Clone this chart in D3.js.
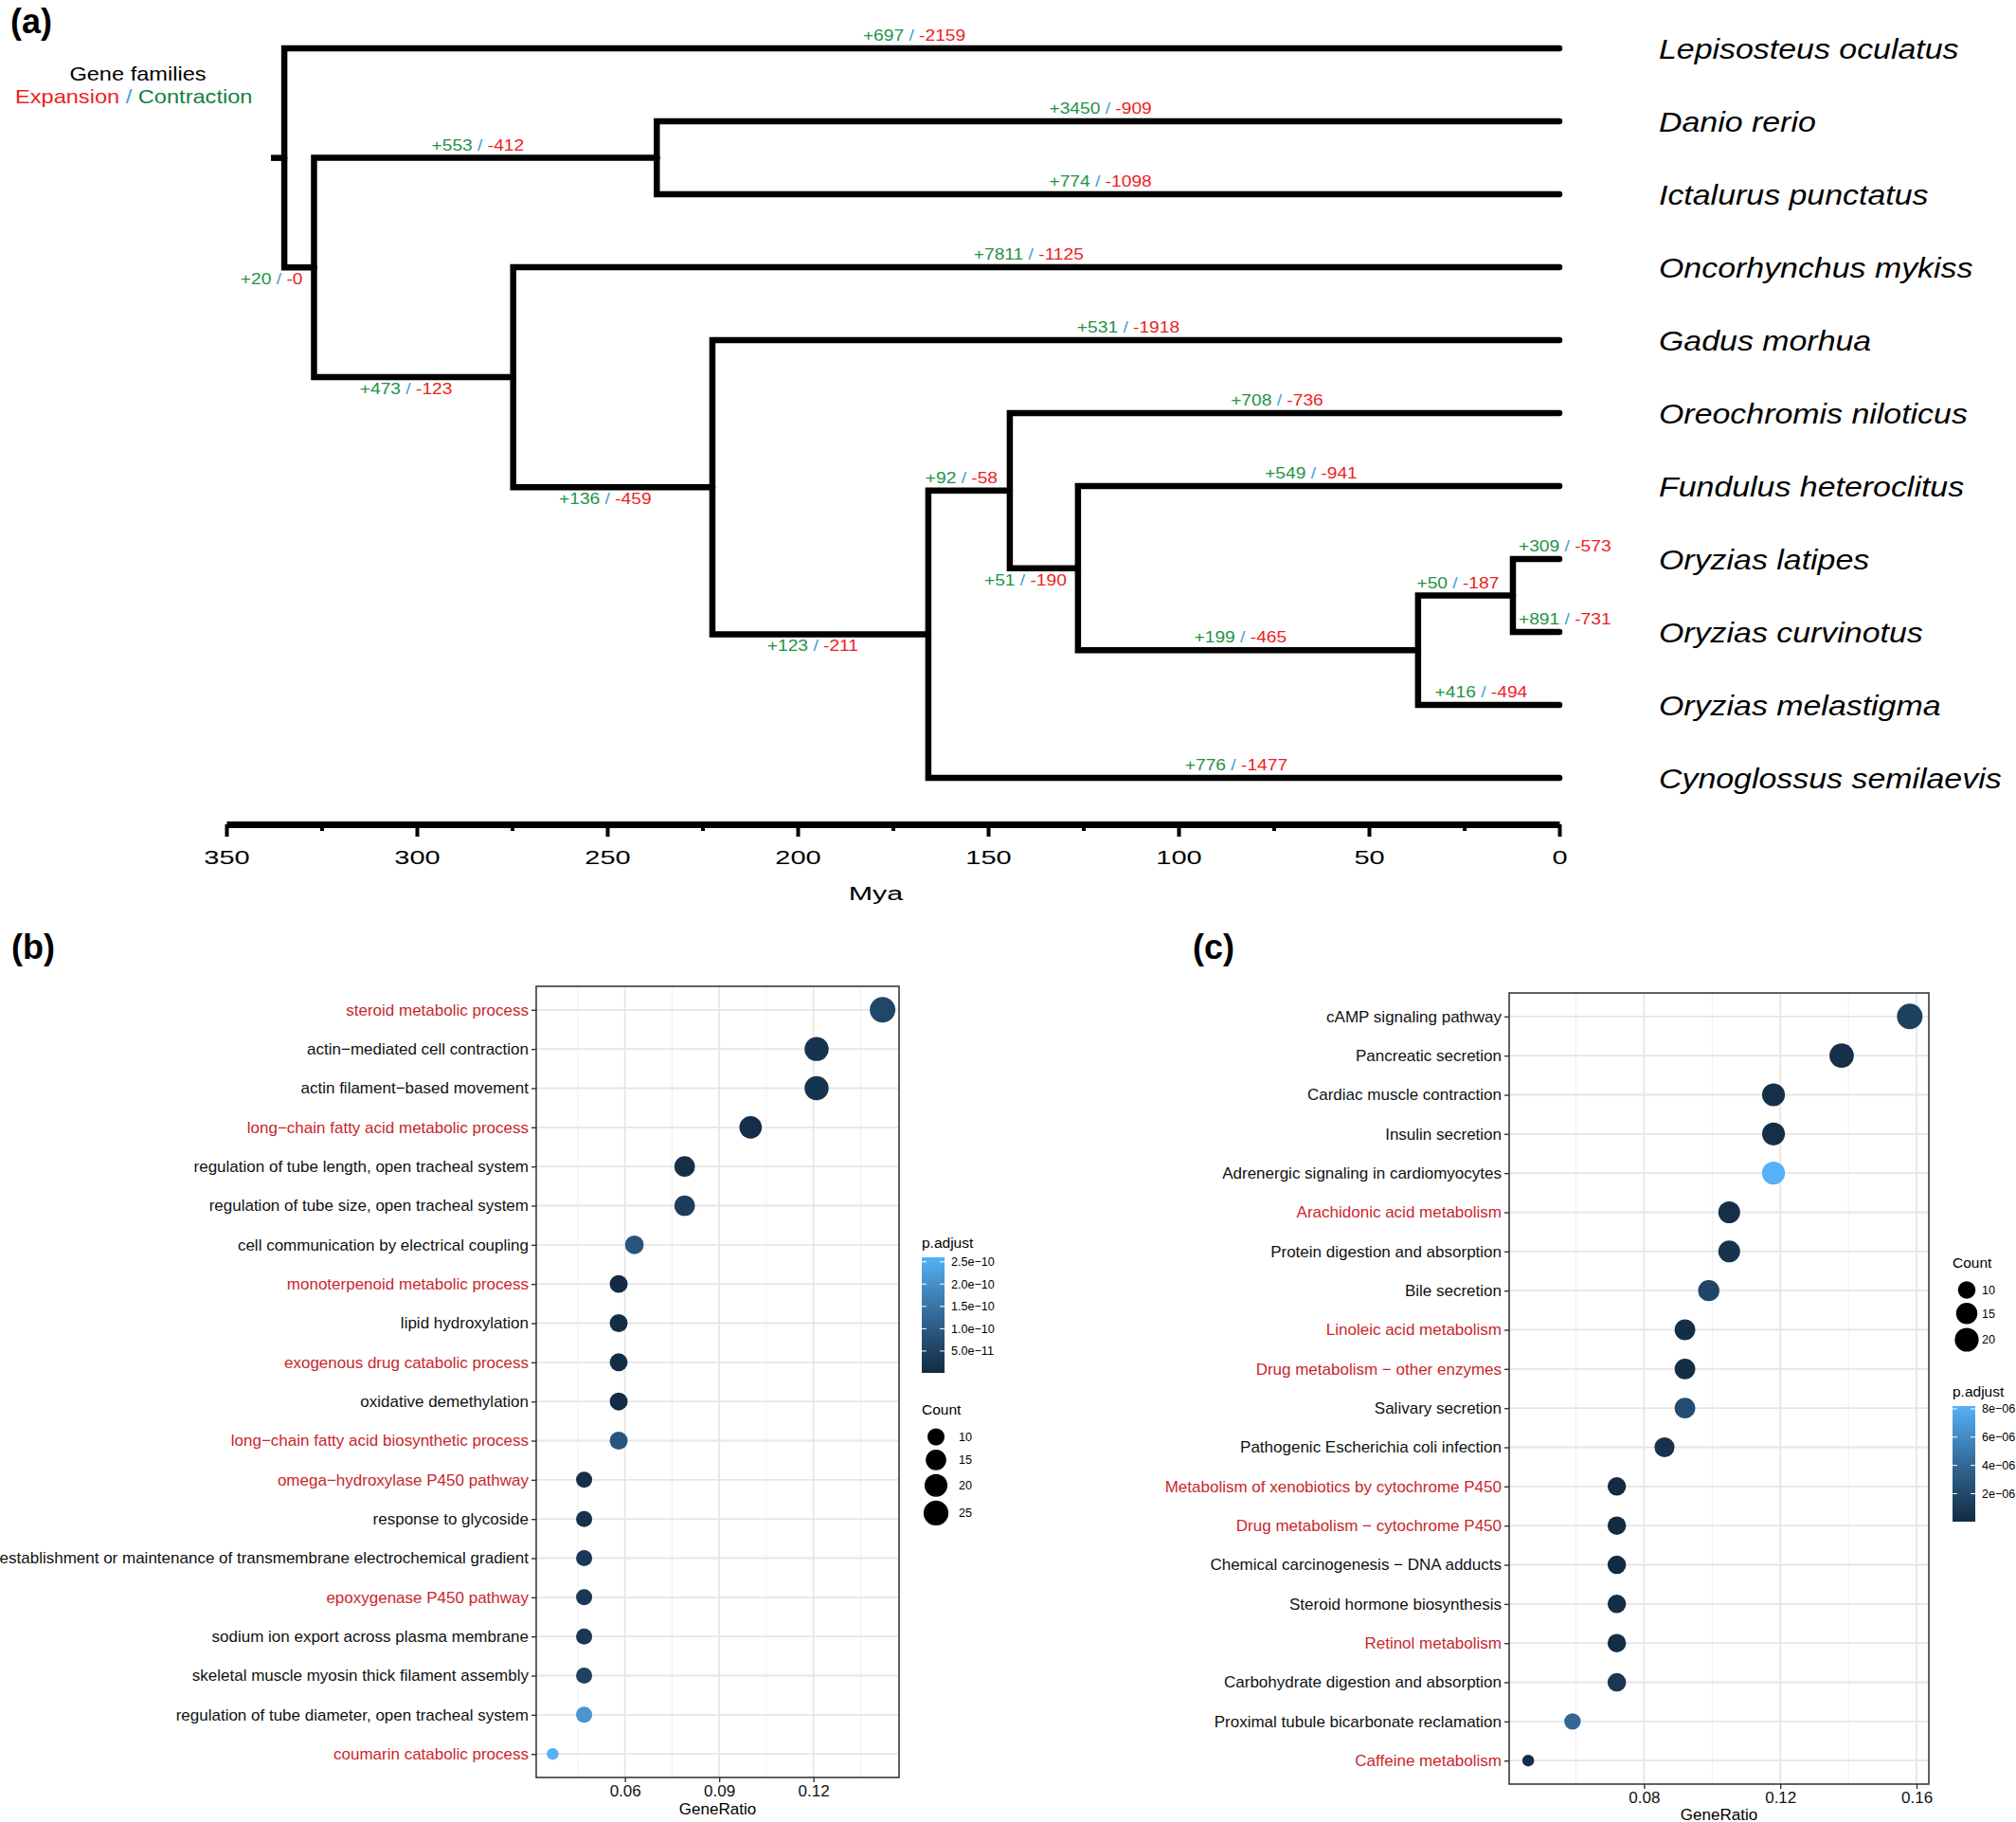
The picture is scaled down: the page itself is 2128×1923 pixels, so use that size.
<!DOCTYPE html>
<html>
<head>
<meta charset="utf-8">
<script src="https://cdn.jsdelivr.net/npm/d3@7"></script>
<style>
  body { margin: 0; background: #fff; }
  text { font-family: "Liberation Sans", Arial, sans-serif; }
</style>
</head>
<body>
<div id="fig"></div>
<script>
d3 = window.d3;

// ---------- (a) tree data ----------
var species = ["Lepisosteus oculatus", "Danio rerio", "Ictalurus punctatus", "Oncorhynchus mykiss",
  "Gadus morhua", "Oreochromis niloticus", "Fundulus heteroclitus", "Oryzias latipes",
  "Oryzias curvinotus", "Oryzias melastigma", "Cynoglossus semilaevis"];
var nodeIds = ["n1", "n2", "n3", "n4", "n5", "n6", "n7", "n8", "n9", "n10"];
var nodeAges = [334.8, 327.0, 237.0, 274.7, 222.4, 165.7, 144.3, 126.4, 37.1, 12.2];
var nodeChildren = [
  ["Lepisosteus oculatus", "n2"], ["n3", "n4"], ["Danio rerio", "Ictalurus punctatus"],
  ["Oncorhynchus mykiss", "n5"], ["Gadus morhua", "n6"], ["n7", "Cynoglossus semilaevis"],
  ["Oreochromis niloticus", "n8"], ["Fundulus heteroclitus", "n9"], ["n10", "Oryzias melastigma"],
  ["Oryzias latipes", "Oryzias curvinotus"]];
var rootEdge = 3.5;

var branchTo = ["Lepisosteus oculatus", "n2", "n3", "Danio rerio", "Ictalurus punctatus", "n4",
  "Oncorhynchus mykiss", "n5", "Gadus morhua", "n6", "n7", "Oreochromis niloticus", "n8",
  "Fundulus heteroclitus", "n9", "n10", "Oryzias latipes", "Oryzias curvinotus",
  "Oryzias melastigma", "Cynoglossus semilaevis"];
var gains = [697, 20, 553, 3450, 774, 473, 7811, 136, 531, 123, 92, 708, 51, 549, 199, 50, 309, 891, 416, 776];
var losses = [2159, 0, 412, 909, 1098, 123, 1125, 459, 1918, 211, 58, 736, 190, 941, 465, 187, 573, 731, 494, 1477];

var myaTicks = [350, 300, 250, 200, 150, 100, 50, 0];
var myaMinor = [325, 275, 225, 175, 125, 75, 25];

// ---------- (b) GO terms ----------
var bTerms = ["steroid metabolic process", "actin\u2212mediated cell contraction", "actin filament\u2212based movement",
  "long\u2212chain fatty acid metabolic process", "regulation of tube length, open tracheal system",
  "regulation of tube size, open tracheal system", "cell communication by electrical coupling",
  "monoterpenoid metabolic process", "lipid hydroxylation", "exogenous drug catabolic process",
  "oxidative demethylation", "long\u2212chain fatty acid biosynthetic process", "omega\u2212hydroxylase P450 pathway",
  "response to glycoside", "establishment or maintenance of transmembrane electrochemical gradient",
  "epoxygenase P450 pathway", "sodium ion export across plasma membrane",
  "skeletal muscle myosin thick filament assembly", "regulation of tube diameter, open tracheal system",
  "coumarin catabolic process"];
var bRatio = [0.142, 0.121, 0.121, 0.100, 0.079, 0.079, 0.063, 0.058, 0.058, 0.058, 0.058, 0.058,
  0.047, 0.047, 0.047, 0.047, 0.047, 0.047, 0.047, 0.037];
var bCount = [27, 23, 23, 19, 15, 15, 12, 11, 11, 11, 11, 11, 9, 9, 9, 9, 9, 9, 9, 7];
var bPadj = [6e-11, 2e-11, 2e-11, 1e-11, 1e-11, 4e-11, 9e-11, 1e-12, 5e-12, 5e-12, 5e-12, 9e-11,
  1e-11, 1.5e-11, 3e-11, 3e-11, 3e-11, 5e-11, 2.1e-10, 2.6e-10];
var bRed = ["steroid metabolic process", "long\u2212chain fatty acid metabolic process", "monoterpenoid metabolic process",
  "exogenous drug catabolic process", "long\u2212chain fatty acid biosynthetic process",
  "omega\u2212hydroxylase P450 pathway", "epoxygenase P450 pathway", "coumarin catabolic process"];
var bXTicks = [0.06, 0.09, 0.12];
var bXMinor = [0.045, 0.075, 0.105, 0.135];
var bPTicks = [5e-11, 1e-10, 1.5e-10, 2e-10, 2.5e-10];
var bCountBreaks = [10, 15, 20, 25];

// ---------- (c) KEGG pathways ----------
var cTerms = ["cAMP signaling pathway", "Pancreatic secretion", "Cardiac muscle contraction", "Insulin secretion",
  "Adrenergic signaling in cardiomyocytes", "Arachidonic acid metabolism", "Protein digestion and absorption",
  "Bile secretion", "Linoleic acid metabolism", "Drug metabolism \u2212 other enzymes", "Salivary secretion",
  "Pathogenic Escherichia coli infection", "Metabolism of xenobiotics by cytochrome P450",
  "Drug metabolism \u2212 cytochrome P450", "Chemical carcinogenesis \u2212 DNA adducts",
  "Steroid hormone biosynthesis", "Retinol metabolism", "Carbohydrate digestion and absorption",
  "Proximal tubule bicarbonate reclamation", "Caffeine metabolism"];
var cRatio = [0.158, 0.138, 0.118, 0.118, 0.118, 0.105, 0.105, 0.099, 0.092, 0.092, 0.092, 0.086,
  0.072, 0.072, 0.072, 0.072, 0.072, 0.072, 0.059, 0.046];
var cCount = [24, 21, 18, 18, 18, 16, 16, 15, 14, 14, 14, 13, 11, 11, 11, 11, 11, 11, 9, 7];
var cPadj = [1.5e-6, 4e-7, 3e-7, 3e-7, 8.2e-6, 3e-7, 6e-7, 1.8e-6, 2e-7, 2e-7, 2.3e-6, 5e-7,
  2e-8, 2e-8, 5e-8, 1e-7, 1e-7, 8e-7, 4e-6, 3e-7];
var cRed = ["Arachidonic acid metabolism", "Linoleic acid metabolism", "Drug metabolism \u2212 other enzymes",
  "Metabolism of xenobiotics by cytochrome P450", "Drug metabolism \u2212 cytochrome P450",
  "Retinol metabolism", "Caffeine metabolism"];
var cXTicks = [0.08, 0.12, 0.16];
var cXMinor = [0.06, 0.10, 0.14];
var cPTicks = [2e-6, 4e-6, 6e-6, 8e-6];
var cCountBreaks = [10, 15, 20];

var W = 2128, H = 1923;
var GREEN = "#1f9346", BLUE = "#3d9ddb", RED = "#ee1d24", TERM_RED = "#c9272c";

var svg = d3.select("#fig").append("svg")
  .attr("width", W).attr("height", H)
  .style("background", "#fff");

// panel letters
[["(a)", 11, 35], ["(b)", 12, 1012], ["(c)", 1259, 1012]].forEach(function (p) {
  svg.append("text").attr("x", p[1]).attr("y", p[2])
    .attr("font-size", 36).attr("font-weight", "bold").text(p[0]);
});

// ================= (a) tree =================
var tx = d3.scaleLinear().domain([350, 0]).range([239, 1646]);
var tipY = d3.scalePoint().domain(species).range([51, 821]);

var parentOf = {};
var pos = {};
nodeIds.forEach(function (id, i) {
  nodeChildren[i].forEach(function (c) { parentOf[c] = id; });
});
function place(id) {
  if (pos[id]) return pos[id];
  var i = nodeIds.indexOf(id);
  if (i < 0) {
    pos[id] = {x: tx(0), y: tipY(id)};
  } else {
    var ys = nodeChildren[i].map(function (c) { return place(c).y; });
    pos[id] = {x: tx(nodeAges[i]), y: d3.mean(ys)};
  }
  return pos[id];
}
place("n1");

var tree = svg.append("g");
tree.append("path")
  .attr("d", "M" + tx(nodeAges[0] + rootEdge) + "," + pos.n1.y + "H" + pos.n1.x)
  .attr("fill", "none").attr("stroke", "#000").attr("stroke-width", 6.5);
nodeIds.forEach(function (id, i) {
  var p = pos[id];
  nodeChildren[i].forEach(function (c) {
    var q = pos[c];
    tree.append("path")
      .attr("d", "M" + p.x + "," + p.y + "V" + q.y + "H" + q.x)
      .attr("fill", "none").attr("stroke", "#000").attr("stroke-width", 6.5)
      .attr("stroke-linejoin", "miter").attr("stroke-linecap", "round");
  });
});

// gain / loss labels on branches
var labelBelow = ["n2", "n4", "n5", "n6", "n8"];
branchTo.forEach(function (id, i) {
  var c = pos[id], p = pos[parentOf[id]];
  var len = c.x - p.x;
  var below = labelBelow.indexOf(id) >= 0;
  var ax, anchor;
  if (below && len < 80) { ax = c.x - 12; anchor = "end"; }
  else if (!below && len < 60) { ax = p.x + 6; anchor = "start"; }
  else { ax = (p.x + c.x) / 2 - 8; anchor = "middle"; }
  var ty = below ? c.y + 18 : c.y - 8;
  var t = tree.append("text")
    .attr("transform", "translate(" + ax + "," + ty + ") scale(1.2,1)")
    .attr("text-anchor", anchor).attr("font-size", 16);
  t.append("tspan").attr("fill", GREEN).text("+" + gains[i]);
  t.append("tspan").attr("fill", BLUE).text(" / ");
  t.append("tspan").attr("fill", RED).text("-" + losses[i]);
});

// species names
species.forEach(function (s) {
  tree.append("text")
    .attr("transform", "translate(1751," + tipY(s) + ") scale(1.13,1)")
    .attr("dy", "0.36em").attr("font-size", 30).attr("font-style", "italic")
    .text(s);
});

// legend
tree.append("text").attr("transform", "translate(145.5,85) scale(1.18,1)")
  .attr("text-anchor", "middle").attr("font-size", 20).text("Gene families");
var lg = tree.append("text").attr("transform", "translate(16,109) scale(1.18,1)").attr("font-size", 20);
lg.append("tspan").attr("fill", RED).text("Expansion");
lg.append("tspan").attr("fill", BLUE).text(" / ");
lg.append("tspan").attr("fill", "#137f3f").text("Contraction");

// time axis
var axA = svg.append("g").attr("transform", "translate(0,870)");
axA.call(d3.axisBottom(tx).tickValues(myaMinor).tickSize(7).tickSizeOuter(0).tickFormat(""));
axA.selectAll(".tick line").attr("stroke", "#000").attr("stroke-width", 4);
axA.select(".domain").remove();
var axB = svg.append("g").attr("transform", "translate(0,870)");
axB.call(d3.axisBottom(tx).tickValues(myaTicks).tickSize(13).tickSizeOuter(0).tickPadding(15));
axB.select(".domain").attr("stroke", "#000").attr("stroke-width", 7);
axB.selectAll(".tick line").attr("stroke", "#000").attr("stroke-width", 4);
axB.selectAll(".tick text").attr("font-size", 20).attr("fill", "#000")
  .attr("font-family", "'Liberation Sans', Arial, sans-serif")
  .attr("transform", "scale(1.45,1)");
svg.append("text")
  .attr("transform", "translate(" + ((tx.range()[0] + tx.range()[1]) / 2 - 18) + ",950) scale(1.45,1)")
  .attr("text-anchor", "middle").attr("font-size", 21).text("Mya");

// ================= (b) / (c) dot plots =================
function sciFmt(digits) {
  return function (v) {
    var s = v.toExponential(digits).split("e");
    var n = +s[1];
    return s[0] + "e" + (n < 0 ? "\u2212" : "+") + String(Math.abs(n)).padStart(2, "0");
  };
}

function dotPlot(cfg) {
  var g = svg.append("g");
  var x0 = cfg.box[0], y0 = cfg.box[1], x1 = cfg.box[2], y1 = cfg.box[3];
  var ext = d3.extent(cfg.ratio), pad = (ext[1] - ext[0]) * 0.05;
  var x = d3.scaleLinear().domain([ext[0] - pad, ext[1] + pad]).range([x0, x1]);
  var y = d3.scalePoint().domain(cfg.terms).range([y0, y1]).padding(0.6);
  var norm = d3.scaleLinear().domain(d3.extent(cfg.count)).range([0, 1]);
  var rr = d3.scaleLinear().domain([0, 1]).range([6.2, 13.5]);
  var r = function (v) { return rr(Math.sqrt(Math.max(0, norm(v)))); };
  var pExt = d3.extent(cfg.padj);
  var col = d3.scaleLinear().domain(pExt).range(["#132B43", "#56B1F7"]).interpolate(d3.interpolateLab);

  // grid
  g.selectAll("line.minor").data(cfg.xMinor).join("line").attr("class", "minor")
    .attr("x1", x).attr("x2", x).attr("y1", y0).attr("y2", y1)
    .attr("stroke", "#ececec").attr("stroke-width", 0.9);
  g.selectAll("line.majorx").data(cfg.xTicks).join("line").attr("class", "majorx")
    .attr("x1", x).attr("x2", x).attr("y1", y0).attr("y2", y1)
    .attr("stroke", "#e6e6e6").attr("stroke-width", 1.8);
  g.selectAll("line.majory").data(cfg.terms).join("line").attr("class", "majory")
    .attr("x1", x0).attr("x2", x1).attr("y1", y).attr("y2", y)
    .attr("stroke", "#e6e6e6").attr("stroke-width", 1.8);

  // points
  g.selectAll("circle.pt").data(cfg.terms).join("circle").attr("class", "pt")
    .attr("cx", function (d, i) { return x(cfg.ratio[i]); })
    .attr("cy", function (d) { return y(d); })
    .attr("r", function (d, i) { return r(cfg.count[i]); })
    .attr("fill", function (d, i) { return col(cfg.padj[i]); });

  g.append("rect").attr("x", x0).attr("y", y0).attr("width", x1 - x0).attr("height", y1 - y0)
    .attr("fill", "none").attr("stroke", "#3a3a3a").attr("stroke-width", 1.6);

  // axes
  var ax = g.append("g").attr("transform", "translate(0," + y1 + ")")
    .call(d3.axisBottom(x).tickValues(cfg.xTicks).tickSize(5).tickPadding(3).tickFormat(d3.format(".2f")));
  ax.select(".domain").remove();
  ax.selectAll(".tick line").attr("stroke", "#333").attr("stroke-width", 1.4);
  ax.selectAll(".tick text").attr("font-size", 17).attr("fill", "#111")
    .attr("font-family", "'Liberation Sans', Arial, sans-serif");
  var ay = g.append("g").attr("transform", "translate(" + x0 + ",0)")
    .call(d3.axisLeft(y).tickSize(5).tickPadding(3));
  ay.select(".domain").remove();
  ay.selectAll(".tick line").attr("stroke", "#333").attr("stroke-width", 1.4);
  ay.selectAll(".tick text").attr("font-size", 17)
    .attr("font-family", "'Liberation Sans', Arial, sans-serif")
    .attr("fill", function (d) { return cfg.red.indexOf(d) >= 0 ? TERM_RED : "#111"; });
  g.append("text").attr("x", (x0 + x1) / 2).attr("y", cfg.xlabY)
    .attr("text-anchor", "middle").attr("font-size", 17).text("GeneRatio");

  // colour bar legend
  var cb = cfg.colorbar, bw = 24, bh = 122;
  g.append("text").attr("x", cb[0]).attr("y", cb[1] - 10).attr("font-size", 15.5).text("p.adjust");
  var gid = "grad" + cfg.id;
  var grad = svg.append("defs").append("linearGradient").attr("id", gid)
    .attr("x1", 0).attr("y1", 1).attr("x2", 0).attr("y2", 0);
  d3.range(0, 1.0001, 0.05).forEach(function (t) {
    grad.append("stop").attr("offset", t)
      .attr("stop-color", col(pExt[0] + t * (pExt[1] - pExt[0])));
  });
  g.append("rect").attr("x", cb[0]).attr("y", cb[1]).attr("width", bw).attr("height", bh)
    .attr("fill", "url(#" + gid + ")");
  var py = d3.scaleLinear().domain(pExt).range([cb[1] + bh, cb[1]]);
  cfg.pTicks.forEach(function (v) {
    var yy = py(v);
    g.append("line").attr("x1", cb[0]).attr("x2", cb[0] + 5).attr("y1", yy).attr("y2", yy)
      .attr("stroke", "#fff").attr("stroke-width", 1);
    g.append("line").attr("x1", cb[0] + bw - 5).attr("x2", cb[0] + bw).attr("y1", yy).attr("y2", yy)
      .attr("stroke", "#fff").attr("stroke-width", 1);
    g.append("text").attr("x", cb[0] + bw + 7).attr("y", yy).attr("dy", "0.35em")
      .attr("font-size", 12.6).text(cfg.pFmt(v));
  });

  // size legend
  var sz = cfg.sizeLegend;
  g.append("text").attr("x", sz[0]).attr("y", sz[1] - 12).attr("font-size", 15.5).text("Count");
  var yy = sz[1];
  cfg.countBreaks.forEach(function (v) {
    var rad = r(v), kh = Math.max(23, 2 * rad + 4);
    var cy = yy + kh / 2;
    g.append("circle").attr("cx", sz[0] + 15).attr("cy", cy).attr("r", rad).attr("fill", "#000");
    g.append("text").attr("x", sz[0] + 15 + cfg.sizeLabelDx).attr("y", cy).attr("dy", "0.35em")
      .attr("font-size", 12.6).text(v);
    yy += kh;
  });
}

dotPlot({
  id: "b", terms: bTerms, ratio: bRatio, count: bCount, padj: bPadj, red: bRed,
  xTicks: bXTicks, xMinor: bXMinor, pTicks: bPTicks, countBreaks: bCountBreaks,
  pFmt: sciFmt(1), box: [566, 1041, 949, 1876], xlabY: 1915,
  colorbar: [973, 1327], sizeLegend: [973, 1505], sizeLabelDx: 24
});
dotPlot({
  id: "c", terms: cTerms, ratio: cRatio, count: cCount, padj: cPadj, red: cRed,
  xTicks: cXTicks, xMinor: cXMinor, pTicks: cPTicks, countBreaks: cCountBreaks,
  pFmt: sciFmt(0), box: [1593, 1048, 2036, 1883], xlabY: 1921,
  colorbar: [2061, 1484], sizeLegend: [2061, 1350], sizeLabelDx: 16
});
</script>
</body>
</html>
